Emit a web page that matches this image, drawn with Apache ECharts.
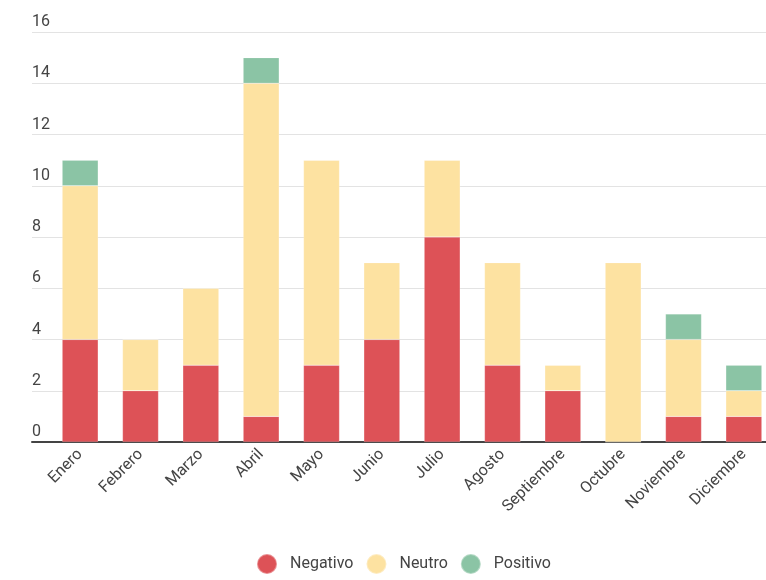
<!DOCTYPE html>
<html>
<head>
<meta charset="utf-8">
<script src="https://cdn.jsdelivr.net/npm/echarts@6/dist/echarts.min.js"></script>
<style>
  html, body { margin: 0; padding: 0; background: #fff; }
  #chart { width: 766px; height: 580px; }
</style>
</head>
<body>
<div id="chart"></div>
<script>
const months = ['Enero', 'Febrero', 'Marzo', 'Abril', 'Mayo', 'Junio', 'Julio', 'Agosto', 'Septiembre', 'Octubre', 'Noviembre', 'Diciembre']
const negativo = [4, 2, 3, 1, 3, 4, 8, 3, 2, 0, 1, 1]
const neutro = [6, 2, 3, 13, 8, 3, 3, 4, 1, 7, 3, 1]
const positivo = [1, 0, 0, 1, 0, 0, 0, 0, 0, 0, 1, 1]
const yTicks = { min: 0, max: 16, interval: 2 }

const myChart = echarts.init(document.getElementById('chart'))
const font = 'Roboto, "Noto Sans", sans-serif'

function stackSeries(name, data, color) {
  return {
    name: name,
    type: 'bar',
    stack: 'total',
    xAxisIndex: 1,
    yAxisIndex: 1,
    barWidth: 36,
    data: data,
    itemStyle: { color: color, borderColor: 'rgba(255,255,255,0.35)', borderWidth: 0.5 },
  }
}

let option = {
  backgroundColor: '#fff',
  animation: false,
  textStyle: { fontFamily: font },
  grid: [
    // gridlines + y labels
    { left: 32, right: 0, top: 32, bottom: 138, outerBoundsMode: 'none' },
    // bars (wider than the window on the right, like the original)
    { left: 50, width: 724, top: 32, bottom: 138, outerBoundsMode: 'none' },
  ],
  legend: {
    left: 251,
    bottom: 0,
    icon: 'circle',
    itemWidth: 20,
    itemHeight: 20,
    itemGap: 12,
    textStyle: { fontSize: 16, color: '#444', fontFamily: font, padding: [0, 0, 0, 8] },
    data: ['Negativo', 'Neutro', 'Positivo'],
  },
  xAxis: [
    {
      gridIndex: 0,
      type: 'value',
      min: 0,
      max: 1,
      axisLine: { show: true, onZero: false, lineStyle: { color: '#444', width: 2 } },
      axisTick: { show: false },
      axisLabel: { show: false },
      splitLine: { show: false },
    },
    {
      gridIndex: 1,
      type: 'category',
      data: months,
      axisLine: { show: false },
      axisTick: { show: false },
      axisLabel: {
        rotate: 45,
        interval: 0,
        margin: 10,
        fontSize: 16,
        color: '#444',
        fontFamily: font,
        padding: [0, 0, 0, 0],
      },
    },
  ],
  yAxis: [
    {
      gridIndex: 0,
      type: 'value',
      min: yTicks.min,
      max: yTicks.max,
      interval: yTicks.interval,
      axisLine: { show: false },
      axisTick: { show: false },
      axisLabel: {
        inside: true,
        margin: 0,
        verticalAlign: 'bottom',
        padding: [0, 0, 2, 0],
        fontSize: 16,
        color: '#444',
        fontFamily: font,
      },
      splitLine: { lineStyle: { color: '#e3e3e3', width: 1 } },
    },
    {
      gridIndex: 1,
      type: 'value',
      min: yTicks.min,
      max: yTicks.max,
      interval: yTicks.interval,
      axisLine: { show: false },
      axisTick: { show: false },
      axisLabel: { show: false },
      splitLine: { show: false },
    },
  ],
  series: [
    stackSeries('Negativo', negativo, '#dd5257'),
    stackSeries('Neutro', neutro, '#fde2a1'),
    stackSeries('Positivo', positivo, '#8bc4a5'),
  ],
}
myChart.setOption(option)
</script>
</body>
</html>
